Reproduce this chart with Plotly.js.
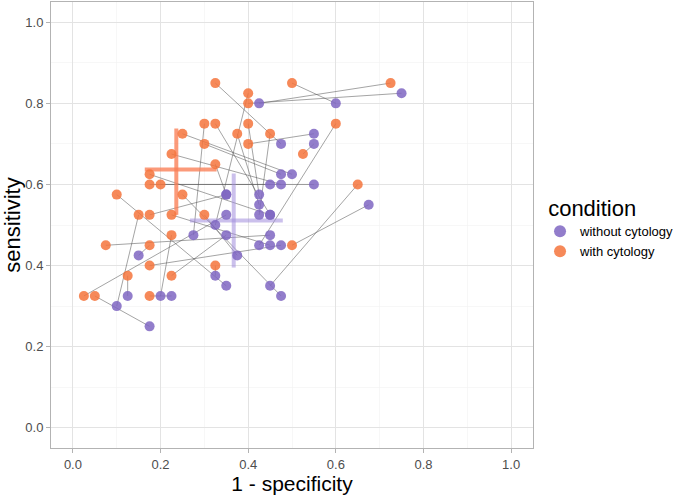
<!DOCTYPE html>
<html>
<head>
<meta charset="utf-8">
<script src="https://cdn.plot.ly/plotly-3.0.1.min.js"></script>
<style>
  html, body { margin: 0; padding: 0; background: #fff; }
  #chart { width: 685px; height: 495px; }
</style>
</head>
<body>
<div id="chart"></div>
<script>
// one entry per study: with cytology (orange) and without cytology (purple)
var withX = [0.325, 0.5, 0.725, 0.4, 0.4, 0.3, 0.325, 0.4, 0.6, 0.25,
             0.375, 0.45, 0.3, 0.4, 0.225, 0.525, 0.325, 0.175, 0.175, 0.2,
             0.65, 0.1, 0.25, 0.15, 0.175, 0.225, 0.3, 0.225, 0.075, 0.175,
             0.5, 0.175, 0.325, 0.125, 0.225, 0.025, 0.05, 0.175];
var withY = [0.85, 0.85, 0.85, 0.825, 0.8, 0.75, 0.75, 0.75, 0.75, 0.725,
             0.725, 0.725, 0.7, 0.7, 0.675, 0.675, 0.65, 0.625, 0.6, 0.6,
             0.6, 0.575, 0.575, 0.525, 0.525, 0.525, 0.525, 0.475, 0.45, 0.45,
             0.45, 0.4, 0.4, 0.375, 0.375, 0.325, 0.325, 0.325];
var withoutX = [0.475, 0.6, 0.425, 0.325, 0.75, 0.275, 0.45, 0.425, 0.425, 0.5,
                0.425, 0.425, 0.475, 0.55, 0.475, 0.55, 0.35, 0.45, 0.45, 0.55,
                0.45, 0.35, 0.475, 0.1, 0.35, 0.45, 0.375, 0.2, 0.45, 0.15,
                0.675, 0.475, 0.325, 0.125, 0.35, 0.35, 0.175, 0.225];
var withoutY = [0.7, 0.8, 0.8, 0.5, 0.825, 0.475, 0.525, 0.575, 0.45, 0.625,
                0.55, 0.525, 0.625, 0.725, 0.6, 0.7, 0.575, 0.525, 0.6, 0.6,
                0.35, 0.35, 0.325, 0.3, 0.575, 0.45, 0.425, 0.325, 0.475, 0.425,
                0.55, 0.45, 0.375, 0.325, 0.475, 0.525, 0.25, 0.325];

// summary estimates: [without, with]
var sumX   = [0.367, 0.236];
var sumY   = [0.511, 0.637];
var sumXlo = [0.267, 0.164];
var sumXhi = [0.479, 0.328];
var sumYlo = [0.395, 0.525];
var sumYhi = [0.627, 0.738];

var conditions = ['without cytology', 'with cytology'];
var pointColors = ['#7f66c2', '#f4743c'];
var crossColors = ['rgba(160,140,220,0.55)', 'rgba(250,125,85,0.78)'];

var segX = [], segY = [];
for (var i = 0; i < withX.length; i++) {
  segX.push(withoutX[i], withX[i], null);
  segY.push(withoutY[i], withY[i], null);
}

var traces = [{
  x: segX, y: segY, type: 'scatter', mode: 'lines',
  line: {color: 'rgba(90,90,90,0.55)', width: 1},
  hoverinfo: 'skip', showlegend: false
}];

for (var k = 0; k < 2; k++) {
  traces.push({
    x: [sumXlo[k], sumXhi[k], null, sumX[k], sumX[k]],
    y: [sumY[k], sumY[k], null, sumYlo[k], sumYhi[k]],
    type: 'scatter', mode: 'lines',
    line: {color: crossColors[k], width: 4},
    hoverinfo: 'skip', showlegend: false
  });
}

traces.push({
  x: withoutX, y: withoutY, type: 'scatter', mode: 'markers',
  name: conditions[0],
  marker: {color: pointColors[0], size: 10, opacity: 0.85}
});
traces.push({
  x: withX, y: withY, type: 'scatter', mode: 'markers',
  name: conditions[1],
  marker: {color: pointColors[1], size: 10, opacity: 0.85}
});

var axisCommon = {
  range: [-0.05, 1.05],
  tickvals: [0, 0.2, 0.4, 0.6, 0.8, 1.0],
  ticktext: ['0.0', '0.2', '0.4', '0.6', '0.8', '1.0'],
  ticks: 'outside', ticklen: 4, tickcolor: '#b3b3b3', tickwidth: 1,
  tickfont: {family: 'Liberation Sans, Arial, sans-serif', size: 13, color: '#4d4d4d'},
  showgrid: true, gridcolor: '#e3e3e3', gridwidth: 1,
  minor: {tickvals: [0.1, 0.3, 0.5, 0.7, 0.9], showgrid: true, gridcolor: '#f1f1f1', gridwidth: 0.6, ticks: ''},
  zeroline: false,
  showline: true, mirror: true, linecolor: '#b3b3b3', linewidth: 1
};

var layout = {
  width: 685, height: 495,
  margin: {l: 51, r: 152, t: 2, b: 47},
  paper_bgcolor: '#fff', plot_bgcolor: '#fff',
  font: {family: 'Liberation Sans, Arial, sans-serif', color: '#000'},
  xaxis: Object.assign({}, axisCommon, {
    title: {text: '1 - specificity', font: {size: 21, color: '#000'}}
  }),
  yaxis: Object.assign({}, axisCommon, {
    title: {text: 'sensitivity', font: {size: 22, color: '#000'}}
  }),
  legend: {
    x: 1.0146, xanchor: 'left', y: 0.495, yanchor: 'middle',
    title: {text: '\u00a0condition', font: {size: 22, color: '#000'}},
    font: {size: 13, color: '#000'},
    itemsizing: 'constant', itemwidth: 30, tracegroupgap: 0
  },
  showlegend: true
};

Plotly.newPlot('chart', traces, layout, {displayModeBar: false, staticPlot: true});
</script>
</body>
</html>
